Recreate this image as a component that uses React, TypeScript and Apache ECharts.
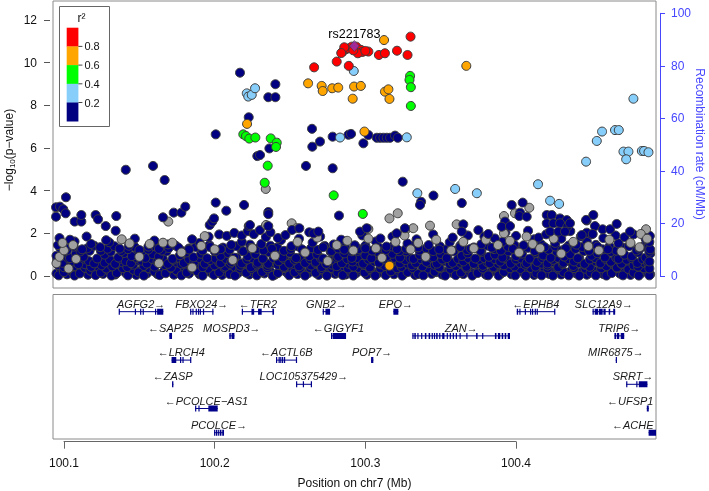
import React, { useEffect, useRef } from "react";
import * as echarts from "echarts";

// ---------- axes / scales ----------
const X_MIN = 100.0927;
const X_MAX = 100.4929;
const xTickValues = [100.1, 100.2, 100.3, 100.4];
const r2Breaks = ["0.8", "0.6", "0.4", "0.2"];
const r2Colors = ["#FF0000", "#FFA500", "#00FF00", "#87CEFA", "#000080"];
const NA_COLOR = "#A0A0A0";
const LEAD_COLOR = "#9632B8";
const RECOMB_COLOR = "#4646FF";
const GENE_COLOR = "#00008B";

const leadSnp = { name: "rs221783", pos: 100.2927, logp: 10.78 };

// ---------- association points (position Mb, -log10 p) ----------
const redPts = [[100.266,9.78],[100.281,10.05],[100.289,9.85],[100.285,10.52],[100.287,10.63],[100.289,10.67],[100.291,10.75],[100.294,10.75],[100.297,10.6],[100.298,10.5],[100.302,10.52],[100.286,10.72],[100.295,10.44],[100.309,10.36],[100.313,10.44],[100.321,10.56],[100.328,10.36],[100.330,11.22],[100.292,10.58],[100.300,10.55],[100.284,10.45]];

const orangePts = [[100.2215,7.13],[100.262,9.03],[100.271,8.91],[100.2717,8.67],[100.278,8.8],[100.282,8.83],[100.2925,8.88],[100.297,8.91],[100.2916,8.31],[100.313,8.64],[100.3153,8.75],[100.316,8.3],[100.3124,11.06],[100.367,9.85],[100.2994,6.77],[100.316,0.48]];

const greenPts = [[100.219,6.64],[100.2208,6.56],[100.223,6.44],[100.227,6.49],[100.2372,6.45],[100.2412,6.25],[100.2407,6.05],[100.2352,5.17],[100.2332,4.37],[100.279,3.78],[100.2983,2.91],[100.3297,9.38],[100.3293,9.19],[100.3302,8.85],[100.3302,7.97]];

const lightbluePts = [[100.2213,8.56],[100.2223,8.41],[100.2246,8.49],[100.2268,8.8],[100.2923,9.61],[100.2832,6.49],[100.3275,6.5],[100.3345,3.88],[100.3596,4.08],[100.374,3.88],[100.4146,4.3],[100.4226,3.53],[100.4286,3.38],[100.4779,8.31],[100.4571,6.77],[100.4536,6.33],[100.4465,5.36],[100.4657,6.84],[100.4682,6.84],[100.4713,5.83],[100.4746,5.83],[100.4731,5.47],[100.4835,5.86],[100.485,5.86],[100.4879,5.8]];

const navyHigh = [[100.2168,9.53],[100.2356,8.38],[100.2403,8.38],[100.2403,8.99],[100.2226,7.44],[100.2363,5.98],[100.2283,5.62],[100.2301,5.67],[100.2007,6.64],[100.141,4.98],[100.1591,5.16],[100.1668,4.5],[100.2606,5.16],[100.2646,6.9],[100.2648,6.06],[100.2699,6.3],[100.2783,6.53],[100.2888,6.62],[100.2905,6.66],[100.2783,5.05],[100.302,6.61],[100.3076,6.48],[100.3098,6.48],[100.312,6.48],[100.3142,6.48],[100.3164,6.48],[100.3197,6.58],[100.3215,6.48],[100.2987,6.22],[100.3248,4.42],[100.3452,3.77],[100.2825,2.83],[100.337,3.48],[100.3363,3.33],[100.364,3.42],[100.4465,2.63],[100.4513,2.86],[100.4668,2.44]];

const navyMid = [[100.0947,3.22],[100.0973,3.25],[100.0995,3.13],[100.1011,2.94],[100.0947,2.78],[100.1013,3.69],[100.1071,2.55],[100.1115,2.55],[100.1115,2.86],[100.121,2.86],[100.1226,2.66],[100.1277,2.34],[100.1347,2.81],[100.1343,2.12],[100.1657,2.75],[100.1728,2.97],[100.1779,2.97],[100.1805,3.25],[100.2007,3.44],[100.2077,3.06],[100.2195,3.33],[100.1967,2.39],[100.1984,2.55],[100.1996,2.7],[100.2226,2.34],[100.2356,3.0],[100.2356,2.9],[100.2356,2.34],[100.2234,2.39],[100.2514,2.16],[100.2562,2.24],[100.2628,2.05],[100.2655,2.0],[100.2688,2.08],[100.2965,2.08],[100.3009,2.24],[100.3208,2.0],[100.3263,2.24],[100.3971,3.33],[100.4044,3.44],[100.4027,2.97],[100.4022,2.81],[100.3927,2.55],[100.3905,2.31],[100.396,2.34],[100.4071,2.78],[100.365,2.42],[100.364,2.08],[100.3816,1.97],[100.4204,2.86],[100.4237,2.86],[100.4292,2.7],[100.4337,2.62],[100.4204,2.47],[100.4248,2.47],[100.4292,2.47],[100.4341,2.31],[100.4358,2.47],[100.4226,2.08],[100.4281,2.08],[100.4325,2.08],[100.4469,2.6],[100.4524,2.34],[100.4575,2.19],[100.4624,2.19],[100.4757,2.08],[100.4469,2.03],[100.4509,1.97],[100.4436,1.92]];

const navyBand = [
[100.095,0.12],[100.098,0.28],[100.102,0.08],[100.105,0.22],[100.109,0.15],[100.112,0.31],[100.116,0.06],[100.119,0.19],[100.123,0.27],[100.126,0.1],[100.13,0.24],[100.134,0.07],[100.137,0.3],[100.141,0.14],[100.144,0.21],[100.148,0.05],[100.151,0.26],[100.155,0.12],[100.158,0.33],[100.162,0.09],[100.166,0.2],[100.169,0.28],[100.173,0.06],[100.176,0.17],[100.18,0.25],[100.183,0.11],[100.187,0.3],[100.19,0.08],[100.194,0.22],[100.198,0.14],[100.201,0.27],[100.205,0.05],[100.208,0.19],[100.212,0.31],[100.215,0.1],[100.219,0.24],[100.223,0.07],[100.226,0.16],[100.23,0.29],[100.233,0.12],[100.237,0.2],[100.24,0.06],[100.244,0.26],[100.248,0.15],[100.251,0.32],[100.255,0.09],[100.258,0.21],[100.262,0.13],[100.265,0.28],[100.269,0.05],[100.273,0.18],[100.276,0.25],[100.28,0.1],[100.283,0.3],[100.287,0.07],[100.29,0.22],[100.294,0.14],[100.297,0.27],[100.301,0.06],[100.305,0.19],[100.308,0.11],[100.312,0.29],[100.315,0.16],[100.319,0.08],[100.322,0.24],[100.326,0.13],[100.33,0.31],[100.333,0.05],[100.337,0.2],[100.34,0.27],[100.344,0.1],[100.347,0.18],[100.351,0.07],[100.355,0.25],[100.358,0.14],[100.362,0.3],[100.365,0.09],[100.369,0.21],[100.372,0.12],[100.376,0.28],[100.38,0.06],[100.383,0.17],[100.387,0.24],[100.39,0.11],[100.394,0.3],[100.397,0.08],[100.401,0.2],[100.405,0.15],[100.408,0.26],[100.412,0.05],[100.415,0.19],[100.419,0.32],[100.422,0.1],[100.426,0.23],[100.43,0.07],[100.433,0.16],[100.437,0.28],[100.44,0.12],[100.444,0.21],[100.447,0.06],[100.451,0.27],[100.455,0.14],[100.458,0.09],[100.462,0.24],[100.465,0.3],[100.469,0.11],[100.472,0.18],[100.476,0.05],[100.48,0.26],[100.483,0.13],[100.487,0.2],[100.489,0.08],
[100.0965,0.03],[100.1,0.18],[100.1035,0.36],[100.107,0.02],[100.1105,0.12],[100.114,0.38],[100.1175,0.25],[100.121,0.04],[100.1245,0.16],[100.128,0.35],[100.1315,0.02],[100.135,0.14],[100.139,0.37],[100.1425,0.03],[100.146,0.29],[100.1495,0.17],[100.153,0.02],[100.1565,0.36],[100.16,0.21],[100.1635,0.04],[100.1675,0.13],[100.171,0.37],[100.1745,0.27],[100.178,0.03],[100.1815,0.16],[100.185,0.35],[100.1885,0.22],[100.192,0.02],[100.196,0.34],[100.1995,0.05],[100.203,0.17],[100.2065,0.38],[100.21,0.09],[100.2135,0.02],[100.217,0.35],[100.221,0.15],[100.2245,0.33],[100.228,0.03],[100.2315,0.19],[100.235,0.36],[100.2385,0.01],[100.242,0.14],[100.246,0.37],[100.2495,0.03],[100.253,0.18],[100.2565,0.34],[100.26,0.02],[100.2635,0.37],[100.267,0.15],[100.271,0.33],[100.2745,0.02],[100.278,0.36],[100.2815,0.17],[100.285,0.04],[100.2885,0.35],[100.292,0.02],[100.296,0.37],[100.2995,0.16],[100.303,0.33],[100.3065,0.02],[100.31,0.36],[100.3135,0.04],[100.317,0.22],[100.321,0.36],[100.3245,0.02],[100.328,0.18],[100.3315,0.37],[100.335,0.09],[100.3385,0.03],[100.342,0.35],[100.346,0.2],[100.3495,0.37],[100.353,0.02],[100.3565,0.33],[100.36,0.04],[100.3635,0.16],[100.367,0.36],[100.371,0.02],[100.3745,0.14],[100.378,0.35],[100.3815,0.03],[100.385,0.37],[100.3885,0.02],[100.392,0.19],[100.396,0.36],[100.3995,0.03],[100.403,0.33],[100.4065,0.02],[100.41,0.37],[100.4135,0.12],[100.417,0.03],[100.421,0.36],[100.4245,0.02],[100.428,0.34],[100.4315,0.18],[100.435,0.03],[100.4385,0.37],[100.442,0.02],[100.446,0.34],[100.4495,0.16],[100.453,0.03],[100.4565,0.36],[100.46,0.02],[100.4635,0.14],[100.467,0.37],[100.471,0.03],[100.4745,0.33],[100.478,0.15],[100.4815,0.02],[100.485,0.36],[100.4885,0.03],
[100.096,0.52],[100.1,0.41],[100.103,0.66],[100.107,0.47],[100.11,0.72],[100.114,0.55],[100.118,0.43],[100.121,0.61],[100.125,0.5],[100.128,0.7],[100.132,0.45],[100.135,0.58],[100.139,0.64],[100.142,0.42],[100.146,0.53],[100.15,0.71],[100.153,0.47],[100.157,0.6],[100.16,0.44],[100.164,0.67],[100.167,0.51],[100.171,0.4],[100.175,0.63],[100.178,0.55],[100.182,0.73],[100.185,0.46],[100.189,0.59],[100.192,0.42],[100.196,0.68],[100.2,0.5],[100.203,0.62],[100.207,0.44],[100.21,0.57],[100.214,0.7],[100.217,0.48],[100.221,0.61],[100.224,0.41],[100.228,0.54],[100.231,0.69],[100.235,0.47],[100.239,0.6],[100.242,0.52],[100.246,0.43],[100.249,0.66],[100.253,0.56],[100.256,0.45],[100.26,0.72],[100.264,0.49],[100.267,0.6],[100.271,0.42],[100.274,0.65],[100.278,0.53],[100.281,0.46],[100.285,0.7],[100.289,0.57],[100.292,0.44],[100.296,0.63],[100.299,0.51],[100.303,0.4],[100.306,0.68],[100.31,0.55],[100.313,0.47],[100.317,0.61],[100.321,0.73],[100.324,0.43],[100.328,0.58],[100.331,0.5],[100.335,0.66],[100.338,0.45],[100.342,0.6],[100.346,0.52],[100.349,0.41],[100.353,0.69],[100.356,0.56],[100.36,0.47],[100.363,0.62],[100.367,0.43],[100.371,0.71],[100.374,0.54],[100.378,0.48],[100.381,0.64],[100.385,0.42],[100.388,0.57],[100.392,0.5],[100.396,0.67],[100.399,0.45],[100.403,0.6],[100.406,0.53],[100.41,0.72],[100.413,0.44],[100.417,0.58],[100.421,0.49],[100.424,0.65],[100.428,0.41],[100.431,0.56],[100.435,0.7],[100.438,0.47],[100.442,0.61],[100.446,0.52],[100.449,0.43],[100.453,0.68],[100.456,0.55],[100.46,0.46],[100.463,0.63],[100.467,0.4],[100.47,0.57],[100.474,0.72],[100.478,0.5],[100.481,0.44],[100.485,0.62],[100.488,0.53],
[100.0955,0.78],[100.099,0.62],[100.1025,0.85],[100.106,0.68],[100.1095,0.56],[100.113,0.82],[100.1165,0.7],[100.12,0.59],[100.1235,0.84],[100.127,0.63],[100.1305,0.77],[100.134,0.57],[100.1375,0.81],[100.141,0.69],[100.1445,0.6],[100.148,0.85],[100.1515,0.72],[100.155,0.58],[100.1585,0.8],[100.162,0.66],[100.1655,0.83],[100.169,0.57],[100.1725,0.76],[100.176,0.86],[100.1795,0.61],[100.183,0.79],[100.1865,0.67],[100.19,0.84],[100.1935,0.58],[100.197,0.75],[100.2005,0.82],[100.204,0.6],[100.2075,0.8],[100.211,0.66],[100.2145,0.85],[100.218,0.59],[100.2215,0.77],[100.225,0.83],[100.2285,0.62],[100.232,0.78],[100.2355,0.57],[100.239,0.84],[100.2425,0.69],[100.246,0.8],[100.2495,0.58],[100.253,0.76],[100.2565,0.85],[100.26,0.61],[100.2635,0.79],[100.267,0.66],[100.2705,0.83],[100.274,0.57],[100.2775,0.76],[100.281,0.85],[100.2845,0.6],[100.288,0.79],[100.2915,0.68],[100.295,0.84],[100.2985,0.58],[100.302,0.77],[100.3055,0.83],[100.309,0.62],[100.3125,0.8],[100.316,0.67],[100.3195,0.85],[100.323,0.59],[100.3265,0.75],[100.33,0.82],[100.3335,0.61],[100.337,0.79],[100.3405,0.66],[100.344,0.84],[100.3475,0.58],[100.351,0.77],[100.3545,0.85],[100.358,0.62],[100.3615,0.8],[100.365,0.68],[100.3685,0.83],[100.372,0.57],[100.3755,0.76],[100.379,0.84],[100.3825,0.6],[100.386,0.79],[100.3895,0.67],[100.393,0.85],[100.3965,0.58],[100.4,0.77],[100.4035,0.82],[100.407,0.61],[100.4105,0.8],[100.414,0.66],[100.4175,0.84],[100.421,0.59],[100.4245,0.76],[100.428,0.85],[100.4315,0.62],[100.435,0.79],[100.4385,0.68],[100.442,0.83],[100.4455,0.57],[100.449,0.77],[100.4525,0.84],[100.456,0.6],[100.4595,0.8],[100.463,0.67],[100.4665,0.85],[100.47,0.58],[100.4735,0.76],[100.477,0.83],[100.4805,0.61],[100.484,0.79],[100.4875,0.66],
[100.095,0.95],[100.099,1.12],[100.104,0.84],[100.108,1.05],[100.113,0.9],[100.117,1.18],[100.122,0.82],[100.127,1.0],[100.131,1.14],[100.136,0.87],[100.14,1.08],[100.145,0.93],[100.149,1.2],[100.154,0.85],[100.159,1.02],[100.163,0.91],[100.168,1.15],[100.172,0.8],[100.177,0.98],[100.181,1.1],[100.186,0.88],[100.191,1.04],[100.195,0.83],[100.2,1.16],[100.204,0.94],[100.209,1.07],[100.213,0.86],[100.218,1.19],[100.222,0.92],[100.227,1.03],[100.232,0.81],[100.236,1.12],[100.241,0.96],[100.245,0.87],[100.25,1.09],[100.254,0.84],[100.259,1.17],[100.263,0.93],[100.268,1.01],[100.272,0.82],[100.277,1.13],[100.282,0.9],[100.286,1.06],[100.291,0.85],[100.295,1.18],[100.3,0.97],[100.304,0.83],[100.309,1.1],[100.314,0.92],[100.318,1.04],[100.323,0.86],[100.327,1.15],[100.332,0.8],[100.336,0.99],[100.341,1.11],[100.345,0.88],[100.35,1.03],[100.354,0.84],[100.359,1.19],[100.364,0.94],[100.368,1.06],[100.373,0.82],[100.377,1.12],[100.382,0.9],[100.386,1.0],[100.391,0.86],[100.395,1.16],[100.4,0.93],[100.404,1.05],[100.409,0.81],[100.413,1.09],[100.418,0.96],[100.423,0.85],[100.427,1.14],[100.432,0.91],[100.436,1.02],[100.441,0.83],[100.445,1.17],[100.45,0.95],[100.454,1.07],[100.459,0.87],[100.463,1.13],[100.468,0.8],[100.472,1.0],[100.477,0.92],[100.481,1.1],[100.486,0.86],[100.489,1.04],
[100.0975,1.32],[100.102,1.2],[100.1065,1.38],[100.111,1.16],[100.1155,1.3],[100.12,1.42],[100.1245,1.18],[100.129,1.28],[100.1335,1.4],[100.138,1.17],[100.1425,1.26],[100.147,1.36],[100.1515,1.15],[100.156,1.24],[100.1605,1.39],[100.165,1.19],[100.1695,1.31],[100.174,1.43],[100.1785,1.17],[100.183,1.29],[100.1875,1.36],[100.192,1.2],[100.1965,1.45],[100.201,1.18],[100.2055,1.33],[100.21,1.24],[100.2145,1.4],[100.219,1.16],[100.2235,1.47],[100.228,1.27],[100.2325,1.2],[100.237,1.42],[100.2415,1.33],[100.246,1.18],[100.2505,1.27],[100.255,1.4],[100.2595,1.15],[100.264,1.3],[100.2685,1.22],[100.273,1.41],[100.2775,1.17],[100.282,1.29],[100.2865,1.37],[100.291,1.16],[100.2955,1.26],[100.3,1.42],[100.3045,1.19],[100.309,1.33],[100.3135,1.22],[100.318,1.38],[100.3225,1.16],[100.327,1.28],[100.3315,1.41],[100.336,1.2],[100.3405,1.3],[100.345,1.17],[100.3495,1.39],[100.354,1.25],[100.3585,1.16],[100.363,1.43],[100.3675,1.21],[100.372,1.34],[100.3765,1.18],[100.381,1.42],[100.3855,1.26],[100.39,1.19],[100.3945,1.37],[100.399,1.45],[100.4035,1.21],[100.408,1.32],[100.4125,1.17],[100.417,1.47],[100.4215,1.24],[100.426,1.38],[100.4305,1.2],[100.435,1.43],[100.4395,1.27],[100.444,1.36],[100.4485,1.18],[100.453,1.46],[100.4575,1.25],[100.462,1.39],[100.4665,1.19],[100.471,1.33],[100.4755,1.45],[100.48,1.2],[100.4845,1.38],[100.4885,1.14],
[100.096,1.45],[100.101,1.3],[100.107,1.62],[100.112,1.25],[100.118,1.5],[100.124,1.35],[100.13,1.58],[100.137,1.28],[100.143,1.42],[100.15,1.22],[100.156,1.38],[100.163,1.27],[100.169,1.48],[100.176,1.33],[100.183,1.24],[100.19,1.55],[100.197,1.36],[100.204,1.26],[100.211,1.46],[100.218,1.6],[100.224,1.32],[100.231,1.5],[100.238,1.28],[100.244,1.68],[100.251,1.4],[100.258,1.25],[100.265,1.57],[100.272,1.35],[100.279,1.48],[100.286,1.23],[100.293,1.44],[100.3,1.3],[100.307,1.62],[100.314,1.38],[100.321,1.26],[100.328,1.52],[100.335,1.34],[100.342,1.45],[100.349,1.24],[100.356,1.58],[100.363,1.36],[100.37,1.28],[100.377,1.49],[100.384,1.33],[100.391,1.6],[100.398,1.27],[100.405,1.44],[100.412,1.72],[100.419,1.35],[100.426,1.55],[100.433,1.3],[100.44,1.47],[100.447,1.62],[100.454,1.38],[100.461,1.25],[100.468,1.53],[100.475,1.4],[100.482,1.28],[100.488,1.5],
[100.097,1.78],[100.104,1.7],[100.115,1.85],[100.128,1.68],[100.147,1.75],[100.16,1.66],[100.185,1.72],[100.196,1.84],[100.203,1.95],[100.208,1.88],[100.213,2.02],[100.218,1.9],[100.222,2.1],[100.226,1.96],[100.23,2.15],[100.234,1.82],[100.237,2.05],[100.242,1.78],[100.247,1.92],[100.256,1.75],[100.27,1.85],[100.284,1.7],[100.298,1.9],[100.31,1.76],[100.318,1.85],[100.334,1.72],[100.345,1.95],[100.358,1.8],[100.368,1.9],[100.375,2.15],[100.379,1.85],[100.386,1.76],[100.393,2.05],[100.4,1.88],[100.408,2.12],[100.415,1.8],[100.42,1.95],[100.43,1.75],[100.436,2.1],[100.443,1.85],[100.45,1.95],[100.458,1.78],[100.466,1.9],[100.472,1.82],[100.478,1.95],[100.486,1.74],
[100.4885,0.35],[100.4885,0.68],[100.489,1.25],[100.4885,1.6],[100.4888,1.88]
];

const grayPts = [[100.2339,4.08],[100.1692,2.55],[100.1383,1.72],[100.316,2.7],[100.3215,2.94],[100.4088,3.2],[100.3993,2.94],[100.392,2.81],[100.2341,2.39],[100.2511,2.47],[100.2544,2.24],[100.302,2.2],[100.3267,2.16],[100.3318,2.24],[100.3429,2.36],[100.3606,2.42],[100.4863,2.19],[100.4828,1.97],[100.1436,1.53],[100.1569,1.5],[100.1657,1.56],[100.1719,1.56],[100.1911,1.41],[100.1934,1.87],
[100.095,0.6],[100.097,0.9],[100.1,1.2],[100.103,0.35],[100.106,1.45],[100.099,1.55],[100.108,0.8],[100.15,0.9],[100.163,0.6],[100.178,1.1],[100.185,0.4],[100.2,1.25],[100.212,0.75],[100.225,1.3],[100.24,0.95],[100.255,1.6],[100.26,1.1],[100.268,1.8],[100.275,0.7],[100.281,1.45],[100.288,1.65],[100.292,1.2],[100.302,1.75],[100.307,1.3],[100.311,0.85],[100.32,1.6],[100.326,1.9],[100.33,1.25],[100.335,1.55],[100.34,0.9],[100.347,1.7],[100.357,1.2],[100.365,1.6],[100.372,1.3],[100.38,1.7],[100.388,1.45],[100.392,2.0],[100.396,1.65],[100.402,1.1],[100.407,1.85],[100.411,1.5],[100.416,1.3],[100.425,1.75],[100.43,1.05],[100.438,1.6],[100.448,1.4],[100.455,1.2],[100.462,1.7],[100.47,1.15],[100.476,1.55],[100.482,1.35],[100.487,1.75]];

// ---------- genes ----------
const geneNames = ["AGFG2","FBXO24","TFR2","GNB2","EPO","EPHB4","SLC12A9","SAP25","MOSPD3","GIGYF1","ZAN","TRIP6","LRCH4","ACTL6B","POP7","MIR6875","ZASP","LOC105375429","SRRT","PCOLCE\u2212AS1","UFSP1","PCOLCE","ACHE"];
const geneStart = [100.1365,100.1837,100.2180,100.2717,100.3186,100.4005,100.4508,100.1699,100.2097,100.2772,100.3312,100.4653,100.1714,100.2407,100.3038,100.4661,100.1717,100.2540,100.4731,100.1870,100.4868,100.1996,100.4880];
const geneEnd = [100.1659,100.1992,100.2394,100.2766,100.3219,100.4259,100.4658,100.1717,100.2131,100.2872,100.3960,100.4718,100.1843,100.2545,100.3053,100.4665,100.1726,100.2644,100.4872,100.2020,100.4881,100.2062,100.4935];
const geneStrand = ["+","+","-","+","+","-","+","-","+","-","+","+","-","-","+","+","-","+","+","-","-","+","-"];
const geneRow = [1,1,1,1,1,1,1,2,2,2,2,2,3,3,3,3,4,4,4,5,5,6,6];
const geneExons: number[][][] = [
  [[100.1363,100.1369],[100.147,100.1475],[100.1505,100.1512],[100.1522,100.1528],[100.1604,100.1612],[100.1618,100.1659]],
  [[100.1837,100.1845],[100.1852,100.1858],[100.1874,100.1881],[100.1889,100.1895],[100.1901,100.1907],[100.1922,100.1928],[100.1984,100.1992]],
  [[100.218,100.2188],[100.2244,100.2262],[100.2288,100.2312],[100.2383,100.2394]],
  [[100.2717,100.2722],[100.2735,100.2766]],
  [[100.3186,100.3219]],
  [[100.4005,100.4014],[100.4022,100.4028],[100.4058,100.4064],[100.4093,100.4099],[100.4106,100.4111],[100.4124,100.413],[100.4137,100.4143],[100.4253,100.4259]],
  [[100.4508,100.4515],[100.4522,100.4545],[100.455,100.4575],[100.458,100.4595],[100.4615,100.4625],[100.4645,100.4658]],
  [[100.1699,100.1717]],
  [[100.2097,100.2107],[100.2112,100.2131]],
  [[100.2772,100.2778],[100.2783,100.2872]],
  [[100.3312,100.3318],[100.3325,100.3335],[100.3345,100.335],[100.337,100.3378],[100.3395,100.3405],[100.342,100.343],[100.344,100.3445],[100.3455,100.346],[100.347,100.348],[100.349,100.3498],[100.351,100.3525],[100.354,100.3545],[100.356,100.3568],[100.358,100.3588],[100.36,100.3605],[100.3625,100.363],[100.367,100.3675],[100.3735,100.3745],[100.3775,100.378],[100.386,100.387],[100.388,100.3895],[100.3905,100.3915],[100.3925,100.3935],[100.3945,100.396]],
  [[100.4653,100.4665],[100.467,100.4685],[100.4695,100.4718]],
  [[100.1714,100.1745],[100.177,100.1778],[100.1786,100.1791],[100.1837,100.1843]],
  [[100.2407,100.2413],[100.2424,100.243],[100.2435,100.2442],[100.2447,100.2455],[100.246,100.2466],[100.2539,100.2545]],
  [[100.3038,100.3053]],
  [[100.4662,100.4665]],
  [[100.1717,100.1726]],
  [[100.254,100.2545],[100.2585,100.259],[100.2638,100.2644]],
  [[100.4731,100.4735],[100.4798,100.4805],[100.4815,100.4872]],
  [[100.187,100.1876],[100.1892,100.1897],[100.1958,100.202]],
  [[100.4868,100.4881]],
  [[100.1996,100.2003],[100.2008,100.2015],[100.202,100.2028],[100.2033,100.2045],[100.205,100.2062]],
  [[100.488,100.4935]]
];

const FONT_FAMILY = '"Liberation Sans", Arial, Helvetica, sans-serif';
const GENE_FONT = 'italic 11px "Liberation Sans", Arial, sans-serif';

let measureCtx: CanvasRenderingContext2D | null = null;
function textWidth(t: string): number {
  if (!measureCtx) measureCtx = document.createElement("canvas").getContext("2d");
  if (!measureCtx) return t.length * 6.5;
  measureCtx.font = GENE_FONT;
  return measureCtx.measureText(t).width;
}

function geneLabel(i: number): string {
  return geneStrand[i] === "+" ? geneNames[i] + "\u2192" : "\u2190" + geneNames[i];
}

function pointSeries(name: string, data: number[][], color: string, z: number) {
  return {
    name,
    type: "scatter",
    xAxisIndex: 0,
    yAxisIndex: 0,
    data,
    symbol: "circle",
    symbolSize: 9,
    z,
    large: false,
    itemStyle: { color, borderColor: "#3c3c3c", borderWidth: 1, opacity: 1 },
    emphasis: { disabled: true },
    silent: true,
  };
}

export default function App() {
  const ref = useRef<HTMLDivElement>(null);

  useEffect(() => {
    if (!ref.current) return;
    const chart = echarts.init(ref.current, undefined, { renderer: "svg" });

    const geneData = geneNames.map((_, i) => [geneStart[i], geneEnd[i], geneRow[i], i]);

    // legend graphics
    const legX = 66.7, legTop = 27.7, segH = 18.7, segW = 11.7;
    const legendEls: any[] = [
      { type: "rect", shape: { x: 59.5, y: 6.5, width: 50, height: 120 }, style: { fill: "#fff", stroke: "#666", lineWidth: 1 }, z: 100 },
      { type: "text", x: 81.5, y: 18, style: { text: "r\u00B2", fontSize: 12, fontFamily: FONT_FAMILY, fill: "#111", align: "center", verticalAlign: "middle" }, z: 101 },
    ];
    r2Colors.forEach((c, k) => {
      legendEls.push({ type: "rect", shape: { x: legX, y: legTop + k * segH, width: segW, height: segH + 0.3 }, style: { fill: c }, z: 101 });
    });
    r2Breaks.forEach((b, k) => {
      const yy = legTop + (k + 1) * segH;
      legendEls.push({ type: "line", shape: { x1: legX + segW, y1: yy, x2: legX + segW + 4, y2: yy }, style: { stroke: "#444", lineWidth: 1 }, z: 101 });
      legendEls.push({ type: "text", x: legX + segW + 6, y: yy, style: { text: b, fontSize: 11, fontFamily: FONT_FAMILY, fill: "#111", align: "left", verticalAlign: "middle" }, z: 101 });
    });

    const titleEls: any[] = [
      {
        type: "text", x: 354.5, y: 482.5,
        style: { text: "Position on chr7 (Mb)", fontSize: 12, fontFamily: FONT_FAMILY, fill: "#111", align: "center", verticalAlign: "middle" },
      },
      {
        type: "text", x: 9, y: 150, rotation: Math.PI / 2,
        style: {
          text: "{a|\u2212log}{b|10}{a|(p\u2212value)}",
          align: "center", verticalAlign: "middle",
          rich: {
            a: { fontSize: 12, fontFamily: FONT_FAMILY, fill: "#111", lineHeight: 14, verticalAlign: "middle" },
            b: { fontSize: 8, fontFamily: FONT_FAMILY, fill: "#111", lineHeight: 8, verticalAlign: "bottom" },
          },
        },
      },
      {
        type: "text", x: 700, y: 144, rotation: -Math.PI / 2,
        style: { text: "Recombination rate (cM/Mb)", fontSize: 12, fontFamily: FONT_FAMILY, fill: RECOMB_COLOR, align: "center", verticalAlign: "middle" },
      },
    ];

    const option: any = {
      animation: false,
      textStyle: { fontFamily: FONT_FAMILY },
      grid: [
        { left: 53, top: 1, width: 603, height: 287, show: true, borderColor: "#8a8a8a", borderWidth: 1, backgroundColor: "transparent", outerBoundsMode: "none" },
        { left: 53, top: 20, width: 603, height: 256, show: false, outerBoundsMode: "none" },
        { left: 53, top: 13.33, width: 603, height: 262.67, show: false, outerBoundsMode: "none" },
        { left: 53, top: 294.5, width: 603, height: 144.5, show: true, borderColor: "#8a8a8a", borderWidth: 1, backgroundColor: "transparent", outerBoundsMode: "none" },
        { left: 64, top: 300, width: 452, height: 141.7, show: false, outerBoundsMode: "none" },
      ],
      xAxis: [
        { gridIndex: 0, type: "value", min: X_MIN, max: X_MAX, show: false },
        { gridIndex: 1, type: "value", min: 1, max: 2, show: false, axisLine: { onZero: false } },
        { gridIndex: 2, type: "value", min: 1, max: 2, show: false, axisLine: { onZero: false } },
        { gridIndex: 3, type: "value", min: X_MIN, max: X_MAX, show: false },
        {
          gridIndex: 4, type: "value", min: xTickValues[0], max: xTickValues[xTickValues.length - 1],
          interval: 0.1,
          axisLine: { show: true, onZero: false, lineStyle: { color: "#666", width: 1 } },
          axisTick: { show: true, length: 7, lineStyle: { color: "#666" }, customValues: xTickValues },
          axisLabel: { show: true, fontSize: 12, color: "#111", margin: 15, customValues: xTickValues, formatter: (v: number) => v.toFixed(1) },
          splitLine: { show: false },
        },
      ],
      yAxis: [
        { gridIndex: 0, type: "value", min: -0.5625, max: 12.89, show: false },
        {
          gridIndex: 1, type: "value", position: "left", min: 0, max: 12, interval: 2, offset: 3,
          axisLine: { show: false, onZero: false },
          axisTick: { show: true, length: 6, lineStyle: { color: "#555" } },
          axisLabel: { show: true, fontSize: 12, color: "#111", margin: 13 },
          splitLine: { show: false },
        },
        {
          gridIndex: 2, type: "value", position: "right", min: 0, max: 100, interval: 20, offset: 4,
          axisLine: { show: true, onZero: false, lineStyle: { color: RECOMB_COLOR, width: 1 } },
          axisTick: { show: true, length: 5, lineStyle: { color: RECOMB_COLOR } },
          axisLabel: { show: true, fontSize: 12, color: RECOMB_COLOR, margin: 11 },
          splitLine: { show: false },
        },
        { gridIndex: 3, type: "value", min: 0.29, max: 6.26, inverse: true, show: false },
        { gridIndex: 4, type: "value", min: 1, max: 2, show: false },
      ],
      series: [
        pointSeries("navyBand", navyBand, r2Colors[4], 2),
        pointSeries("na", grayPts, NA_COLOR, 3),
        pointSeries("navy", [...navyMid, ...navyHigh], r2Colors[4], 4),
        pointSeries("r2_02_04", lightbluePts, r2Colors[3], 5),
        pointSeries("r2_04_06", greenPts, r2Colors[2], 6),
        pointSeries("r2_06_08", orangePts, r2Colors[1], 7),
        pointSeries("r2_08_10", redPts, r2Colors[0], 8),
        {
          name: "lead",
          type: "scatter",
          xAxisIndex: 0,
          yAxisIndex: 0,
          z: 9,
          symbol: "diamond",
          symbolSize: [10, 11],
          data: [[leadSnp.pos, leadSnp.logp]],
          itemStyle: { color: LEAD_COLOR, borderColor: "#3c3c3c", borderWidth: 0.8 },
          emphasis: { disabled: true },
          silent: true,
        },
        {
          name: "genes",
          type: "custom",
          xAxisIndex: 3,
          yAxisIndex: 3,
          data: geneData,
          encode: { x: [0, 1], y: 2 },
          clip: true,
          silent: true,
          renderItem: (params: any, api: any) => {
            const i = api.value(3);
            const row = api.value(2);
            const p0 = api.coord([api.value(0), row]);
            const p1 = api.coord([api.value(1), row]);
            const y = p0[1];
            const children: any[] = [];
            children.push({ type: "line", shape: { x1: p0[0], y1: y, x2: Math.max(p1[0], p0[0] + 1), y2: y }, style: { stroke: GENE_COLOR, lineWidth: 1 } });
            geneExons[i].forEach((ex) => {
              const e0 = api.coord([ex[0], row])[0];
              const e1 = api.coord([ex[1], row])[0];
              children.push({ type: "rect", shape: { x: e0, y: y - 3, width: Math.max(e1 - e0, 1.2), height: 6 }, style: { fill: GENE_COLOR } });
            });
            const text = geneLabel(i);
            const w = textWidth(text);
            const cs = params.coordSys;
            let cx = (p0[0] + p1[0]) / 2;
            if (cx + w / 2 > cs.x + cs.width - 2.5) cx = cs.x + cs.width - 2.5 - w / 2;
            if (cx - w / 2 < cs.x + 2.5) cx = cs.x + 2.5 + w / 2;
            children.push({ type: "text", style: { text, x: cx, y: y - 8, align: "center", verticalAlign: "middle", font: GENE_FONT, fill: "#1a1a1a" } });
            return { type: "group", children };
          },
        },
      ],
      graphic: [...legendEls, ...titleEls],
    };

    chart.setOption(option);

    // lead SNP name, placed above its marker through the axis scales
    const lp = chart.convertToPixel({ xAxisIndex: 0, yAxisIndex: 0 }, [leadSnp.pos, leadSnp.logp]) as number[];
    if (lp) {
      chart.setOption({
        graphic: [
          ...legendEls,
          ...titleEls,
          {
            type: "text", x: lp[0], y: lp[1] - 12, z: 120,
            style: { text: leadSnp.name, fontSize: 12.5, fontFamily: FONT_FAMILY, fill: "#000", align: "center", verticalAlign: "middle" },
          },
        ],
      });
    }
    return () => chart.dispose();
  }, []);

  return <div ref={ref} style={{ position: "fixed", left: 0, top: 0, width: 709, height: 491 }} />;
}
